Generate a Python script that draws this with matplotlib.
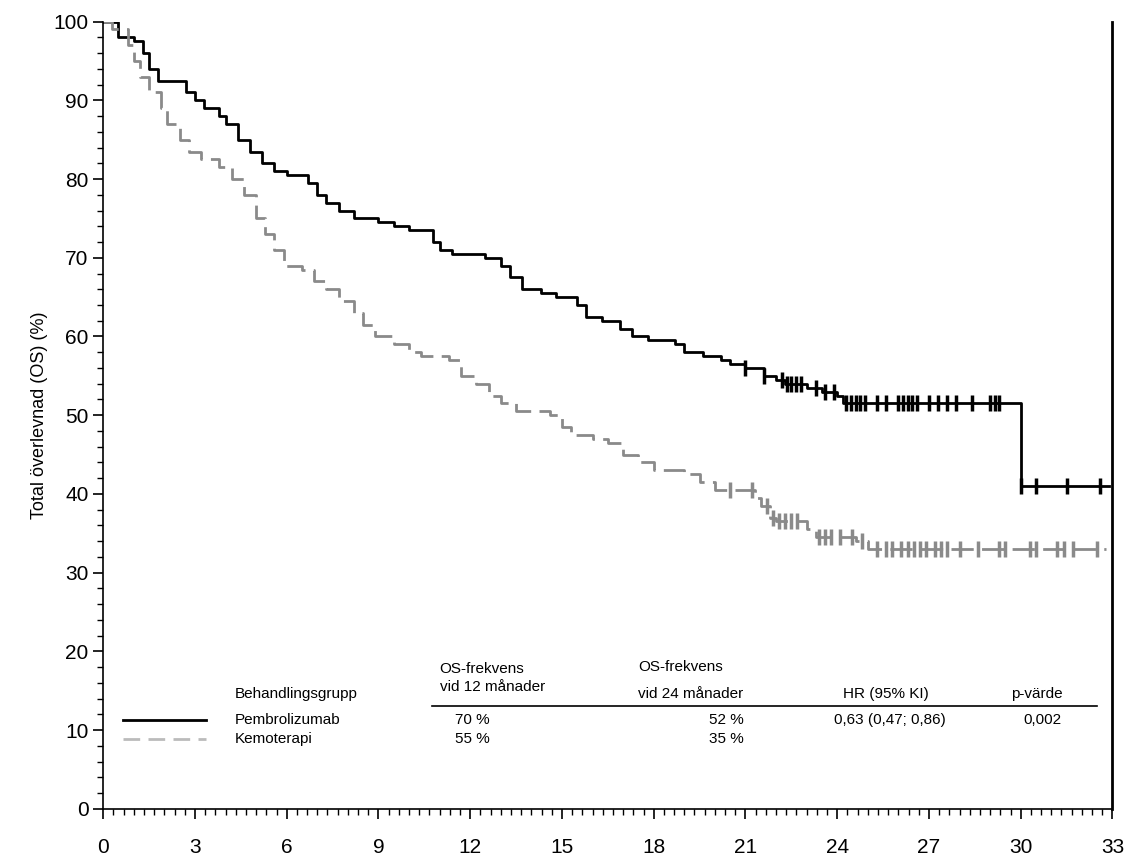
import matplotlib
matplotlib.use("Agg")
import matplotlib.pyplot as plt
import numpy as np
from matplotlib.ticker import MultipleLocator

plt.rcParams['font.family'] = ['Liberation Sans', 'DejaVu Sans']

pem_t = [0,0.5,1.0,1.3,1.5,1.8,2.7,3.0,3.3,3.8,4.0,4.4,4.8,5.2,5.6,6.0,6.7,7.0,7.3,7.7,8.2,9.0,9.5,10.0,10.8,11.0,11.4,12.5,13.0,13.3,13.7,14.3,14.8,15.5,15.8,16.3,16.9,17.3,17.8,18.7,19.0,19.6,20.2,20.5,21.0,21.6,22.0,22.3,23.0,23.5,24.0,24.2,30.0]
pem_s = [100,98,97.5,96,94,92.5,91,90,89,88,87,85,83.5,82,81,80.5,79.5,78,77,76,75,74.5,74,73.5,72,71,70.5,70,69,67.5,66,65.5,65,64,62.5,62,61,60,59.5,59,58,57.5,57,56.5,56,55,54.5,54,53.5,53,52.5,51.5,41]
pem_end = 32.9
pem_cens = [21.0,21.6,22.2,22.35,22.5,22.65,22.8,23.3,23.6,23.9,24.3,24.45,24.6,24.75,24.9,25.3,25.6,26.0,26.15,26.3,26.45,26.6,27.0,27.3,27.6,27.9,28.4,29.0,29.15,29.3,30.0,30.5,31.5,32.6]

kem_t = [0,0.3,0.8,1.0,1.2,1.5,1.9,2.1,2.5,2.8,3.2,3.8,4.2,4.6,5.0,5.3,5.6,5.9,6.5,6.9,7.3,7.7,8.2,8.5,8.9,9.5,10.0,10.4,11.3,11.7,12.2,12.6,13.0,13.5,14.6,15.0,15.3,16.0,16.5,17.0,17.5,18.0,19.0,19.5,20.0,21.3,21.5,21.8,22.0,23.0,23.3,24.6,25.0]
kem_s = [100,99,97,95,93,91,89,87,85,83.5,82.5,81.5,80,78,75,73,71,69,68.5,67,66,64.5,63,61.5,60,59,58,57.5,57,55,54,52.5,51.5,50.5,50,48.5,47.5,47,46.5,45,44,43,42.5,41.5,40.5,39.5,38.5,37,36.5,35.5,34.5,34,33]
kem_end = 32.8
kem_cens = [20.5,21.2,21.7,21.9,22.1,22.3,22.5,22.7,23.4,23.6,23.8,24.1,24.5,24.8,25.3,25.6,25.8,26.1,26.3,26.5,26.7,26.9,27.2,27.4,27.6,28.0,28.6,29.3,29.5,30.3,30.5,31.2,31.4,31.7,32.5]

def surv_at(ts, ss, x):
    i = np.searchsorted(ts, x, side='right') - 1
    return ss[i]

fig = plt.figure(figsize=(11.34, 8.65), dpi=100)
ax = fig.add_axes([0.091, 0.065, 0.890, 0.910])

ax.step(pem_t + [pem_end], pem_s + [pem_s[-1]], where='post', color='black', lw=2)
ax.plot(pem_cens, [surv_at(pem_t, pem_s, c) for c in pem_cens], ls='none', marker='|', ms=12, mew=2.5, color='black')
ax.step(kem_t + [kem_end], kem_s + [kem_s[-1]], where='post', color='#8a8a8a', lw=2, dashes=(8, 3))
ax.plot(kem_cens, [surv_at(kem_t, kem_s, c) for c in kem_cens], ls='none', marker='|', ms=12, mew=2.5, color='#8a8a8a')

ax.set_xlim(0, 33)
ax.set_ylim(0, 100)
ax.xaxis.set_major_locator(MultipleLocator(3))
ax.xaxis.set_minor_locator(MultipleLocator(1/3))
ax.yaxis.set_major_locator(MultipleLocator(10))
ax.yaxis.set_minor_locator(MultipleLocator(2))
ax.tick_params(axis='both', which='major', labelsize=15, length=7, width=1.2)
ax.tick_params(axis='both', which='minor', length=4, width=1)
ax.tick_params(axis='x', pad=14)
ax.spines['top'].set_visible(False)
for s in ['left', 'bottom']:
    ax.spines[s].set_linewidth(1.2)
ax.spines['right'].set_linewidth(2)
ax.set_ylabel('Total överlevnad (OS) (%)', fontsize=13)

fs = 11
ax.text(4.3, 14.6, 'Behandlingsgrupp', fontsize=fs, va='center')
ax.text(11.0, 16.6, 'OS-frekvens\nvid 12 månader', fontsize=fs, va='center', linespacing=1.4)
ax.text(17.5, 16.3, 'OS-frekvens\n\nvid 24 månader', fontsize=fs, va='center', linespacing=0.95)
ax.text(24.2, 14.6, 'HR (95% KI)', fontsize=fs, va='center')
ax.text(29.7, 14.6, 'p-värde', fontsize=fs, va='center')
ax.plot([10.75, 32.5], [13.0, 13.0], color='black', lw=1.2)
ax.plot([0.65, 3.35], [11.3, 11.3], color='black', lw=2)
ax.plot([0.65, 3.35], [8.9, 8.9], color='#bbbbbb', lw=2, dashes=(6, 3))
ax.text(4.3, 11.3, 'Pembrolizumab', fontsize=fs, va='center')
ax.text(4.3, 8.9, 'Kemoterapi', fontsize=fs, va='center')
ax.text(11.5, 11.3, '70 %', fontsize=fs, va='center')
ax.text(11.5, 8.9, '55 %', fontsize=fs, va='center')
ax.text(19.8, 11.3, '52 %', fontsize=fs, va='center')
ax.text(19.8, 8.9, '35 %', fontsize=fs, va='center')
ax.text(23.9, 11.3, '0,63 (0,47; 0,86)', fontsize=fs, va='center')
ax.text(30.1, 11.3, '0,002', fontsize=fs, va='center')

fig.savefig('out.png', dpi=100)
